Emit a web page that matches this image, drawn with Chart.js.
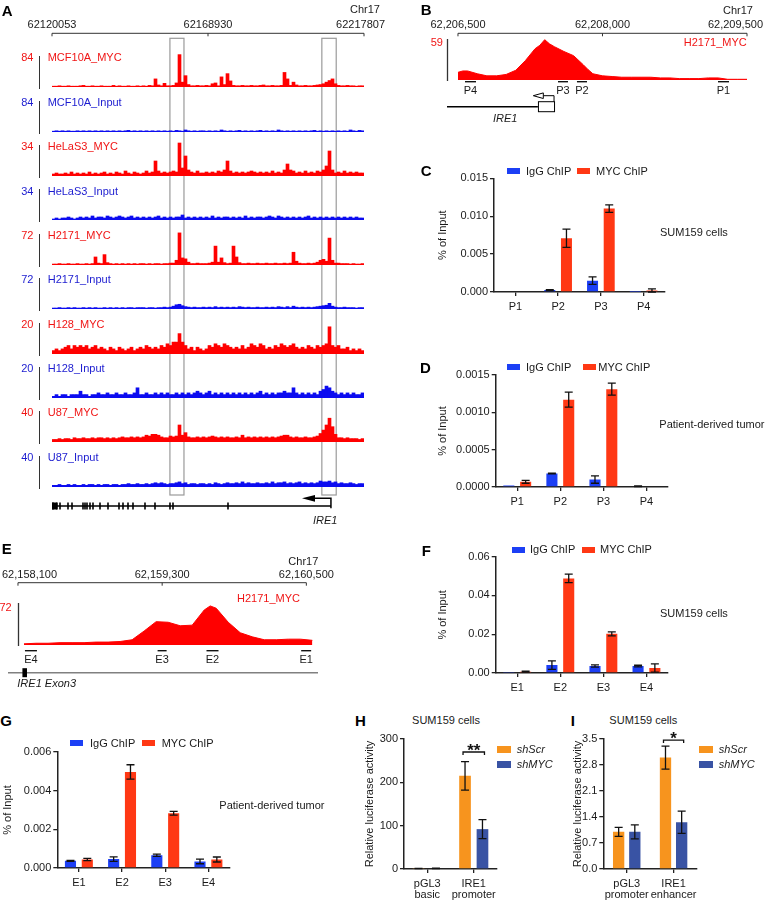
<!DOCTYPE html>
<html>
<head>
<meta charset="utf-8">
<script src="https://cdn.jsdelivr.net/npm/chart.js@4.4.0/dist/chart.umd.min.js"></script>
<style>
  html, body { margin: 0; padding: 0; background: #fff; }
  #root { position: relative; width: 768px; height: 902px; overflow: hidden; background: #fff;
          font-family: "Liberation Sans", Arial, Helvetica, sans-serif; }
  #root canvas { position: absolute; }
</style>
</head>
<body>
<div id="root"></div>
<script>
// ================= DATA =================
// Panel A: genome-browser tracks (104 bins across the window)
const aRulerTicks = [62120053, 62168930, 62217807];
const aRulerLabels = ['62120053', '62168930', '62217807'];
const aHighlight = [[62157000, 62161400], [62204600, 62209100]];
const aTrackNames = ['MCF10A_MYC', 'MCF10A_Input', 'HeLaS3_MYC', 'HeLaS3_Input', 'H2171_MYC',
                     'H2171_Input', 'H128_MYC', 'H128_Input', 'U87_MYC', 'U87_Input'];
const aTrackMax = [84, 84, 34, 34, 72, 72, 20, 20, 40, 40];
const aTrackIsMYC = [true, false, true, false, true, false, true, false, true, false];
const mcf10aMyc = [2,2,3,2,2,3,2,2,2,3, 4,2,2,3,2,2,3,2,2,2, 4,2,3,2,2,3,2,2,3,2, 3,2,4,3,20,5,3,9,3,3,
  4,10,80,12,28,6,3,3,4,3, 3,4,3,8,10,3,25,6,33,15, 4,3,3,4,3,3,4,3,3,4, 5,3,3,4,3,3,4,36,20,4,
  12,5,3,3,4,3,3,4,5,6, 8,12,16,20,8,4,3,3,4,3, 3,2,3,3];
const mcf10aInput = [2,3,2,3,2,3,2,2,3,2, 3,2,3,2,3,2,3,2,3,2, 3,2,3,2,3,4,2,3,2,3, 2,3,2,3,2,3,2,3,2,3,
  2,4,3,2,5,3,2,3,2,3, 3,2,3,2,3,2,5,3,2,3, 2,3,4,2,3,2,3,2,3,4, 2,3,2,3,2,5,3,2,3,2,
  3,2,3,2,3,2,3,4,2,3, 2,3,2,3,2,3,2,3,2,5, 3,2,4,3];
const helaMyc = [2,3,2,2,3,2,4,2,3,2, 3,2,4,2,3,2,3,4,2,3, 2,4,3,2,5,3,2,4,3,2, 3,5,3,4,15,5,3,4,3,4,
  5,4,33,8,20,6,4,3,5,3, 3,4,3,4,3,5,4,6,15,5, 3,4,3,4,3,4,5,4,3,4, 3,4,3,5,3,4,3,6,12,6,
  5,3,4,3,5,3,4,3,5,4, 6,10,25,6,3,4,3,5,3,4, 3,4,3,3];
const helaInput = [1,2,1,2,2,3,2,1,2,3, 2,3,2,4,2,3,3,2,4,3, 2,3,4,3,2,3,4,2,3,2, 3,2,3,2,3,4,2,3,2,3,
  2,3,3,5,2,3,2,3,2,3, 2,3,2,4,2,3,2,3,3,2, 3,2,3,2,4,2,3,2,3,3, 2,3,4,3,2,4,3,2,3,2,
  3,2,3,2,3,4,2,3,2,3, 2,3,2,3,2,3,2,3,2,3, 2,3,2,2];
const h2171Myc = [2,2,3,2,2,3,2,2,3,2, 2,3,2,3,17,4,3,22,5,3, 2,3,2,3,2,3,2,3,2,3, 3,2,3,2,3,3,2,3,3,4,
  4,10,68,15,13,6,3,3,4,3, 3,3,4,6,40,6,15,5,3,4, 40,17,5,3,3,4,3,3,4,3, 3,4,3,3,4,3,3,4,3,4,
  27,8,4,3,3,4,3,4,6,10, 12,8,57,10,4,4,3,3,3,2, 3,2,2,3];
const h2171Input = [2,2,3,2,2,3,2,3,2,2, 3,2,3,2,3,2,2,3,2,3, 2,3,2,3,2,3,3,2,3,3, 3,2,3,3,2,3,3,4,3,4,
  6,9,10,7,5,4,3,4,3,3, 4,3,4,3,5,3,4,3,4,3, 4,3,5,4,3,4,3,3,4,3, 3,4,3,4,3,5,4,3,5,3,
  6,4,3,4,3,4,3,4,5,6, 7,8,12,6,4,3,3,4,3,3, 3,2,3,3];
const h128Myc = [2,3,2,3,4,5,3,5,4,5, 4,5,3,4,5,3,4,3,2,4, 3,2,4,3,2,3,4,2,3,4, 3,5,4,3,4,3,5,4,6,5,
  7,7,12,7,5,3,4,2,4,3, 2,3,5,4,6,5,4,6,5,4, 3,4,3,5,3,4,6,5,4,6, 5,3,4,3,5,4,6,5,4,5,
  6,4,3,4,3,5,4,3,5,4, 5,6,16,5,4,5,3,3,4,2, 3,2,3,2];
const h128Input = [1,2,1,2,2,1,2,2,2,4, 2,2,1,2,2,3,2,2,3,2, 2,3,2,2,3,2,2,3,6,2, 2,3,2,2,3,2,3,2,3,2,
  2,3,2,3,2,3,2,3,4,3, 2,3,4,2,3,2,3,2,3,2, 3,2,3,2,3,2,3,2,3,4, 2,3,2,3,2,3,3,4,3,3,
  6,3,2,3,2,3,2,3,2,4, 5,7,6,4,3,2,3,2,3,2, 3,2,2,3];
const u87Myc = [3,3,4,3,4,4,3,5,4,4, 5,4,4,5,4,5,5,4,5,4, 5,4,5,6,5,5,6,5,6,5, 6,8,7,9,9,8,6,5,5,7,
  6,7,20,8,11,6,5,5,6,5, 6,5,6,7,6,5,6,5,6,5, 5,6,5,8,5,6,5,6,5,6, 5,6,5,6,5,6,7,8,8,6,
  5,6,5,5,6,5,5,6,7,10, 14,20,28,18,9,5,5,4,5,4, 4,4,3,4];
const u87Input = [2,2,3,2,2,3,2,3,2,2, 3,2,3,3,2,3,2,3,3,2, 3,3,2,3,3,4,3,3,4,3, 3,4,3,4,5,4,5,4,3,4,
  4,5,6,4,5,3,4,4,3,4, 4,3,4,3,5,4,3,4,5,4, 4,5,4,6,4,5,4,4,5,4, 4,5,4,6,4,5,5,6,4,5,
  4,5,6,4,5,4,5,4,5,7, 6,6,7,5,6,4,5,4,4,5, 4,3,4,4];
const aTracks = [mcf10aMyc, mcf10aInput, helaMyc, helaInput, h2171Myc, h2171Input, h128Myc, h128Input, u87Myc, u87Input];
const aExons = [62120366, 62121620, 62122560, 62125066, 62126319, 62129765, 62130392, 62131019, 62131958,
  62132898, 62135091, 62137598, 62141044, 62142297, 62143864, 62145430, 62149190, 62152323, 62157023,
  62157963, 62175195];
const aGeneStart = 62120053, aTSS = 62207450, aArrowTip = 62198378;

// Panel B: H2171_MYC zoom at the IRE1 promoter
const bRulerTicks = [62206500, 62208000, 62209500];
const bRulerLabels = ['62,206,500', '62,208,000', '62,209,500'];
const bPos = [62206500, 62206550, 62206600, 62206700, 62206800, 62206900, 62207000, 62207100, 62207200,
  62207300, 62207350, 62207400, 62207450, 62207500, 62207600, 62207700, 62207800, 62207850, 62207900,
  62208000, 62208100, 62208200, 62208300, 62208400, 62208500, 62208600, 62208700, 62208800, 62208900,
  62209000, 62209100, 62209200, 62209300, 62209400, 62209500];
const bVal = [11, 13, 13, 9, 6, 6, 8, 14, 28, 45, 50, 58, 52, 48, 41, 35, 22, 15, 9, 6, 5, 4, 4, 4, 4,
  3, 3, 2, 2, 2, 3, 3, 1, 1, 1];
const bMax = 59;
const bPrimers = ['P1', 'P2', 'P3', 'P4'];
const bPrimerStart = [62209199, 62207735, 62207538, 62206573];
const bPrimerEnd = [62209313, 62207839, 62207642, 62206687];
const bExon = [62207330, 62207497];
const bTSS = 62207497, bArrowTip = 62207282;

// Panel E: H2171_MYC zoom at the IRE1 enhancer
const eRulerTicks = [62158100, 62159300, 62160500];
const eRulerLabels = ['62,158,100', '62,159,300', '62,160,500'];
const ePos = [62158150, 62158250, 62158350, 62158450, 62158550, 62158650, 62158750, 62158850, 62158950,
  62159050, 62159150, 62159250, 62159350, 62159450, 62159550, 62159650, 62159700, 62159750, 62159850,
  62159950, 62160050, 62160150, 62160250, 62160350, 62160450, 62160550];
const eVal = [2, 3, 3, 4, 4, 4, 5, 5, 6, 9, 24, 40, 39, 33, 34, 60, 67, 63, 39, 21, 14, 9, 9, 10, 10, 8];
const eMax = 72;
const ePrimers = ['E1', 'E2', 'E3', 'E4'];
const ePrimerStart = [62160457, 62159669, 62159262, 62158158];
const ePrimerEnd = [62160540, 62159769, 62159337, 62158258];
const eExon3 = [62158137, 62158175];

// ChIP-qPCR panels
const chipSeries = ['IgG ChIP', 'MYC ChIP'];
const pCategories = ['P1', 'P2', 'P3', 'P4'];
const eCategories = ['E1', 'E2', 'E3', 'E4'];
const cIgG = [0, 0.00025, 0.0015, 0.00003], cIgGErr = [0, 0.00005, 0.0005, 0];
const cMYC = [0, 0.0071, 0.0110, 0.0002], cMYCErr = [0, 0.0012, 0.0005, 0.0002];
const cTicks = [0, 0.005, 0.010, 0.015], cTickLabels = ['0.000', '0.005', '0.010', '0.015'];
const dIgG = [0.00002, 0.00018, 0.0001, 0.00001], dIgGErr = [0, 0.000005, 0.00005, 0.000005];
const dMYC = [0.00007, 0.00117, 0.00131, 0], dMYCErr = [0.00002, 0.0001, 0.00008, 0];
const dTicks = [0, 0.0005, 0.0010, 0.0015], dTickLabels = ['0.0000', '0.0005', '0.0010', '0.0015'];
const fIgG = [0.0002, 0.0041, 0.0036, 0.0036], fIgGErr = [0, 0.0022, 0.0006, 0.0004];
const fMYC = [0.0007, 0.0488, 0.0202, 0.0026], fMYCErr = [0.0002, 0.0022, 0.001, 0.0021];
const fTicks = [0, 0.02, 0.04, 0.06], fTickLabels = ['0.00', '0.02', '0.04', '0.06'];
const gIgG = [0.00037, 0.00046, 0.00066, 0.00034], gIgGErr = [0.00002, 0.00012, 0.00006, 0.00012];
const gMYC = [0.00044, 0.00497, 0.00283, 0.00044], gMYCErr = [0.00006, 0.00037, 0.0001, 0.00013];
const gTicks = [0, 0.002, 0.004, 0.006], gTickLabels = ['0.000', '0.002', '0.004', '0.006'];

// Luciferase panels
const lucSeries = ['shScr', 'shMYC'];
const hCategories = [['pGL3', 'basic'], ['IRE1', 'promoter']];
const hScr = [1, 215], hScrErr = [0.3, 33];
const hMYC = [1.5, 92], hMYCErr = [0.5, 22];
const hTicks = [0, 100, 200, 300], hTickLabels = ['0', '100', '200', '300'];
const iCategories = [['pGL3', 'promoter'], ['IRE1', 'enhancer']];
const iScr = [1.0, 3.0], iScrErr = [0.12, 0.31];
const iMYC = [1.0, 1.26], iMYCErr = [0.19, 0.3];
const iTicks = [0, 0.7, 1.4, 2.1, 2.8, 3.5], iTickLabels = ['0.0', '0.7', '1.4', '2.1', '2.8', '3.5'];

// ================= STYLE =================
const FONT = '"Liberation Sans", Arial, Helvetica, sans-serif';
const RED = '#ff0000', BLUE = '#0c0cf0', RED_T = '#f01515', BLUE_T = '#1c1cd0';
const IGG = '#1c3ff5', MYCC = '#ff3814', ORANGE = '#f7941e', NAVY = '#3953a4';
const AX = '#222', TX = '#1a1a1a';
Chart.defaults.font.family = FONT;
Chart.defaults.font.size = 11;
Chart.defaults.color = TX;

const root = document.getElementById('root');
function mkCanvas(left, top, w, h) {
  const c = document.createElement('canvas');
  c.width = w; c.height = h;
  c.style.left = left + 'px'; c.style.top = top + 'px';
  c.style.width = w + 'px'; c.style.height = h + 'px';
  root.appendChild(c);
  return c;
}
function txt(str, x, y, o = {}) {
  const d = document.createElement('div');
  const fs = o.size || 11;
  d.textContent = str;
  d.style.cssText = 'position:absolute;white-space:nowrap;font-size:' + fs + 'px;line-height:' + fs +
    'px;top:' + (y - 0.49 * fs) + 'px;color:' + (o.color || TX) + ';font-weight:' + (o.bold ? 'bold' : 'normal') +
    ';font-style:' + (o.italic ? 'italic' : 'normal') + ';';
  if (o.align === 'right') d.style.right = (768 - x) + 'px';
  else if (o.align === 'center') { d.style.left = x + 'px'; d.style.transform = 'translateX(-50%)'; }
  else d.style.left = x + 'px';
  root.appendChild(d);
}
function swatch(x, y, w, h, color) {
  const d = document.createElement('div');
  d.style.cssText = 'position:absolute;left:' + x + 'px;top:' + y + 'px;width:' + w + 'px;height:' + h + 'px;background:' + color;
  root.appendChild(d);
}

// ================= PLUGINS =================
const genomePlugin = {
  id: 'genome',
  beforeDatasetsDraw(chart, args, o) {
    if (!o || !o.boxes) return;
    const ctx = chart.ctx, px = v => chart.scales.x.getPixelForValue(v);
    ctx.save(); ctx.strokeStyle = '#9a9a9a'; ctx.lineWidth = 1.2;
    o.boxes.forEach(b => { const x0 = px(b[0]), x1 = px(b[1]); ctx.strokeRect(x0, o.boxTop, x1 - x0, o.boxBottom - o.boxTop); });
    ctx.restore();
  },
  afterDraw(chart, args, o) {
    if (!o) return;
    const ctx = chart.ctx, px = v => chart.scales.x.getPixelForValue(v), ca = chart.chartArea;
    ctx.save();
    ctx.font = '11px ' + FONT;
    if (o.ruler) {
      const r = o.ruler;
      ctx.strokeStyle = '#333'; ctx.lineWidth = 1;
      ctx.beginPath(); ctx.moveTo(px(r.ticks[0]), r.y); ctx.lineTo(px(r.ticks[r.ticks.length - 1]), r.y); ctx.stroke();
      ctx.fillStyle = TX; ctx.textAlign = 'center'; ctx.textBaseline = 'middle';
      r.ticks.forEach((t, i) => {
        const x = px(t);
        ctx.beginPath(); ctx.moveTo(x, r.y); ctx.lineTo(x, r.y + 3); ctx.stroke();
        const w = ctx.measureText(r.labels[i]).width;
        const cx = Math.min(Math.max(x, w / 2 + 2), chart.width - w / 2 - 5);
        ctx.fillText(r.labels[i], cx, r.labelY);
      });
    }
    if (o.scaleBar) {
      ctx.strokeStyle = '#333'; ctx.lineWidth = 1.3;
      const x = Math.round(px(o.scaleBar.pos)) + 0.5;
      ctx.beginPath(); ctx.moveTo(x, ca.top); ctx.lineTo(x, ca.bottom + 1); ctx.stroke();
    }
    if (o.primers) {
      const p = o.primers;
      ctx.strokeStyle = '#111'; ctx.lineWidth = 1.4; ctx.fillStyle = TX;
      ctx.textAlign = 'center'; ctx.textBaseline = 'middle';
      p.names.forEach((n, i) => {
        const x0 = px(p.start[i]), x1 = px(p.end[i]);
        ctx.beginPath(); ctx.moveTo(x0, p.y); ctx.lineTo(x1, p.y); ctx.stroke();
        ctx.fillText(n, (x0 + x1) / 2, p.labelY);
      });
    }
    if (o.gene) {
      const g = o.gene;
      ctx.strokeStyle = g.color || '#000'; ctx.lineWidth = g.width || 1.5;
      ctx.beginPath(); ctx.moveTo(px(g.line[0]), g.y); ctx.lineTo(px(g.line[1]), g.y); ctx.stroke();
      ctx.strokeStyle = '#000'; ctx.fillStyle = '#000';
      (g.ticks || []).forEach(t => {
        const x = px(t);
        ctx.lineWidth = 1.6;
        ctx.beginPath(); ctx.moveTo(x, g.y - g.tickH / 2); ctx.lineTo(x, g.y + g.tickH / 2); ctx.stroke();
      });
      (g.blocks || []).forEach(b => {
        const x0 = px(b[0]), x1 = px(b[1]);
        ctx.fillRect(x0, g.y - b[2] / 2, Math.max(1.5, x1 - x0), b[2]);
      });
      (g.openBoxes || []).forEach(b => {
        const x0 = px(b[0]), x1 = px(b[1]);
        ctx.lineWidth = 1; ctx.fillStyle = '#fff';
        ctx.fillRect(x0, g.y - b[2] / 2, x1 - x0, b[2]);
        ctx.strokeRect(x0 + 0.5, g.y - b[2] / 2, x1 - x0, b[2]);
        ctx.fillStyle = '#000';
      });
      if (g.tss) {
        const t = g.tss, xs = px(t.pos), xt = px(t.tip), dir = xt < xs ? -1 : 1;
        ctx.lineWidth = t.lw || 1.5;
        ctx.beginPath(); ctx.moveTo(xs, t.y0); ctx.lineTo(xs, t.y1); ctx.lineTo(xt - dir * t.headLen, t.y1); ctx.stroke();
        ctx.beginPath();
        ctx.moveTo(xt, t.y1); ctx.lineTo(xt - dir * t.headLen, t.y1 - t.headHalf); ctx.lineTo(xt - dir * t.headLen, t.y1 + t.headHalf); ctx.closePath();
        if (t.open) { ctx.fillStyle = '#fff'; ctx.fill(); ctx.lineWidth = 1; ctx.stroke(); }
        else { ctx.fillStyle = '#000'; ctx.fill(); }
      }
    }
    ctx.restore();
  }
};

const errPlugin = {
  id: 'errbars',
  afterDatasetsDraw(chart) {
    const ctx = chart.ctx, ys = chart.scales.y;
    ctx.save(); ctx.strokeStyle = '#111'; ctx.lineWidth = 1.3;
    chart.data.datasets.forEach((ds, di) => {
      if (!ds.errors) return;
      chart.getDatasetMeta(di).data.forEach((el, i) => {
        const e = ds.errors[i]; if (!e) return;
        const v = ds.data[i];
        const yT = ys.getPixelForValue(v + e), yB = ys.getPixelForValue(Math.max(0, v - e));
        const x = el.x, c = 4;
        ctx.beginPath();
        ctx.moveTo(x, yT); ctx.lineTo(x, yB);
        ctx.moveTo(x - c, yT); ctx.lineTo(x + c, yT);
        ctx.moveTo(x - c, yB); ctx.lineTo(x + c, yB);
        ctx.stroke();
      });
    });
    ctx.restore();
  }
};

const sigPlugin = {
  id: 'sig',
  afterDatasetsDraw(chart, args, o) {
    if (!o || !o.items || !o.items.length) return;
    const ctx = chart.ctx;
    ctx.save(); ctx.strokeStyle = '#111'; ctx.fillStyle = '#111'; ctx.lineWidth = 1.3;
    o.items.forEach(s => {
      const a = chart.getDatasetMeta(0).data[s.index], b = chart.getDatasetMeta(1).data[s.index];
      const y = chart.scales.y.getPixelForValue(s.level), x0 = a.x - 2, x1 = b.x + 2;
      ctx.beginPath(); ctx.moveTo(x0, y + 3); ctx.lineTo(x0, y); ctx.lineTo(x1, y); ctx.lineTo(x1, y + 3); ctx.stroke();
      ctx.font = 'bold 17px ' + FONT; ctx.textAlign = 'center'; ctx.textBaseline = 'alphabetic';
      ctx.fillText(s.text, (x0 + x1) / 2, y + 4);
    });
    ctx.restore();
  }
};

const baseOpts = { responsive: false, animation: false, devicePixelRatio: 1, events: [] };

// ================= PANEL A =================
const A_BASE0 = 87.3, A_STEP = 44.38;
new Chart(mkCanvas(0, 0, 390, 530), {
  type: 'scatter',
  data: { datasets: [{ data: [] }] },
  options: Object.assign({}, baseOpts, {
    layout: { padding: { left: 52, right: 26, top: 40, bottom: 40 } },
    scales: { x: { type: 'linear', display: false, min: aRulerTicks[0], max: aRulerTicks[2] },
              y: { display: false, min: 0, max: 1 } },
    plugins: {
      legend: { display: false }, tooltip: { enabled: false },
      genome: {
        ruler: { ticks: aRulerTicks, labels: aRulerLabels, y: 33.3, labelY: 25.3 },
        boxes: aHighlight, boxTop: 38.3, boxBottom: 495,
        gene: { y: 506, line: [aGeneStart, aTSS], ticks: aExons, tickH: 7,
                blocks: [[aGeneStart, aExons[1], 7]],
                tss: { pos: aTSS, tip: aArrowTip, y0: 508.3, y1: 498.3, headLen: 13, headHalf: 3.4, open: false } }
      }
    }
  }),
  plugins: [genomePlugin]
});

aTracks.forEach((vals, i) => {
  const base = A_BASE0 + A_STEP * i;
  const col = aTrackIsMYC[i] ? RED : BLUE;
  new Chart(mkCanvas(52, Math.round(base) - 34, 312, 34), {
    type: 'bar',
    data: { labels: vals.map((_, k) => k), datasets: [{ data: vals, backgroundColor: col, borderWidth: 0,
            barPercentage: 1, categoryPercentage: 1 }] },
    options: Object.assign({}, baseOpts, {
      layout: { padding: 0 },
      plugins: { legend: { display: false }, tooltip: { enabled: false } },
      scales: { x: { display: false }, y: { display: false, min: 0, max: aTrackMax[i] } }
    })
  });
  const tc = aTrackIsMYC[i] ? RED_T : BLUE_T;
  txt(String(aTrackMax[i]), 33.5, base - 29.5, { align: 'right', color: tc });
  txt(aTrackNames[i], 47.7, base - 29.5, { color: tc });
  swatch(38.6, base - 31, 1.4, 33, '#333');
});

// ================= PANEL B =================
new Chart(mkCanvas(400, 0, 368, 125), {
  type: 'line',
  data: { datasets: [{ data: bPos.map((p, i) => ({ x: p, y: bVal[i] })), fill: 'origin', backgroundColor: RED,
          borderColor: RED, borderWidth: 1, pointRadius: 0, tension: 0 }] },
  options: Object.assign({}, baseOpts, {
    layout: { padding: { left: 47, right: 21, top: 39, bottom: 45 } },
    scales: { x: { type: 'linear', display: false, min: 62206386, max: bRulerTicks[2] },
              y: { display: false, min: 0, max: bMax } },
    plugins: {
      legend: { display: false }, tooltip: { enabled: false },
      genome: {
        ruler: { ticks: bRulerTicks, labels: bRulerLabels, y: 33.3, labelY: 25.3 },
        scaleBar: { pos: 62206386 },
        primers: { names: bPrimers, start: bPrimerStart, end: bPrimerEnd, y: 81.7, labelY: 90.5 },
        gene: { y: 106.7, line: [62206386, bExon[0]], openBoxes: [[bExon[0], bExon[1], 10]],
                tss: { pos: bTSS, tip: bArrowTip, y0: 101.7, y1: 95.7, headLen: 10, headHalf: 2.8, open: true, lw: 1 } }
      }
    }
  }),
  plugins: [genomePlugin]
});

// ================= PANEL E =================
const E_TOP = 540;
new Chart(mkCanvas(0, E_TOP, 340, 160), {
  type: 'line',
  data: { datasets: [{ data: ePos.map((p, i) => ({ x: p, y: eVal[i] })), fill: 'origin', backgroundColor: RED,
          borderColor: RED, borderWidth: 1, pointRadius: 0, tension: 0 }] },
  options: Object.assign({}, baseOpts, {
    layout: { padding: { left: 8, right: 22, top: 63, bottom: 55 } },
    scales: { x: { type: 'linear', display: false, min: 62158017, max: 62160597 },
              y: { display: false, min: 0, max: eMax } },
    plugins: {
      legend: { display: false }, tooltip: { enabled: false },
      genome: {
        ruler: { ticks: eRulerTicks, labels: eRulerLabels, y: 582.7 - E_TOP, labelY: 575 - E_TOP },
        scaleBar: { pos: eRulerTicks[0] },
        primers: { names: ePrimers, start: ePrimerStart, end: ePrimerEnd, y: 650.7 - E_TOP, labelY: 660 - E_TOP },
        gene: { y: 672.7 - E_TOP, color: '#808080', line: [62158017, 62160597], blocks: [[eExon3[0], eExon3[1], 9]] }
      }
    }
  }),
  plugins: [genomePlugin]
});

// ================= BAR PANELS =================
function barChart(o) {
  const padL = 4, padT = 10, padR = 8;
  const left = Math.round(o.plot[0] - o.yW - padL);
  const top = Math.round(o.plot[1] - padT);
  const w = Math.round(o.plot[2] + padR) - left;
  const h = Math.round(o.plot[3] + o.xH) - top;
  new Chart(mkCanvas(left, top, w, h), {
    type: 'bar',
    data: { labels: o.labels, datasets: o.series.map(s => ({ label: s.label, data: s.data, errors: s.err,
            backgroundColor: s.color, borderWidth: 0, categoryPercentage: o.cp, barPercentage: o.bp })) },
    options: Object.assign({}, baseOpts, {
      layout: { padding: { left: o.plot[0] - o.yW - left, top: o.plot[1] - top, right: padR, bottom: 0 } },
      plugins: { legend: { display: false }, tooltip: { enabled: false }, sig: { items: o.sig || [] } },
      scales: {
        x: { grid: { display: true, drawOnChartArea: false, offset: false, tickLength: 4, color: AX, lineWidth: 1.3 },
             border: { display: true, color: AX, width: 1.5 },
             ticks: { color: TX, font: { size: 11, lineHeight: o.xLH || 1.2 }, padding: o.xPad || 3, maxRotation: 0, autoSkip: false },
             afterFit: s => { s.height = o.xH; } },
        y: { min: o.yTicks[0], max: o.yTicks[o.yTicks.length - 1],
             afterBuildTicks: s => { s.ticks = o.yTicks.map(v => ({ value: v })); },
             ticks: { color: TX, font: { size: 11 }, padding: 2, callback: (v, i) => o.yLabels[i] },
             grid: { display: true, drawOnChartArea: false, tickLength: 4, color: AX, lineWidth: 1.3 },
             border: { display: true, color: AX, width: 1.5 },
             title: { display: true, text: o.yTitle, color: TX, font: { size: 11 }, padding: 0 },
             afterFit: s => { s.width = o.yW; } }
      }
    }),
    plugins: [errPlugin, sigPlugin]
  });
}

barChart({ plot: [494, 178.3, 665, 292.3], yW: 57.6, xH: 28, xPad: 4, labels: pCategories, cp: 0.78, bp: 0.66,
  series: [{ label: chipSeries[0], data: cIgG, err: cIgGErr, color: IGG }, { label: chipSeries[1], data: cMYC, err: cMYCErr, color: MYCC }],
  yTicks: cTicks, yLabels: cTickLabels, yTitle: '% of Input' });
barChart({ plot: [495.7, 375, 668.3, 487.3], yW: 59, xH: 28, xPad: 4, labels: pCategories, cp: 0.78, bp: 0.66,
  series: [{ label: chipSeries[0], data: dIgG, err: dIgGErr, color: IGG }, { label: chipSeries[1], data: dMYC, err: dMYCErr, color: MYCC }],
  yTicks: dTicks, yLabels: dTickLabels, yTitle: '% of Input' });
barChart({ plot: [495.7, 556.7, 668.3, 672.7], yW: 59, xH: 28, xPad: 4, labels: eCategories, cp: 0.78, bp: 0.66,
  series: [{ label: chipSeries[0], data: fIgG, err: fIgGErr, color: IGG }, { label: chipSeries[1], data: fMYC, err: fMYCErr, color: MYCC }],
  yTicks: fTicks, yLabels: fTickLabels, yTitle: '% of Input' });
barChart({ plot: [57.3, 752, 230, 867.7], yW: 55.6, xH: 28, xPad: 4, labels: eCategories, cp: 0.78, bp: 0.66,
  series: [{ label: chipSeries[0], data: gIgG, err: gIgGErr, color: IGG }, { label: chipSeries[1], data: gMYC, err: gMYCErr, color: MYCC }],
  yTicks: gTicks, yLabels: gTickLabels, yTitle: '% of Input' });
barChart({ plot: [404, 739, 496.7, 869], yW: 40.6, xH: 32, xLH: 1.05, xPad: 5, labels: hCategories, cp: 0.75, bp: 0.67,
  series: [{ label: lucSeries[0], data: hScr, err: hScrErr, color: ORANGE }, { label: lucSeries[1], data: hMYC, err: hMYCErr, color: NAVY }],
  yTicks: hTicks, yLabels: hTickLabels, yTitle: 'Relative luciferase activity',
  sig: [{ index: 1, level: 270, text: '**' }] });
barChart({ plot: [603.3, 739, 696.7, 869], yW: 31.6, xH: 32, xLH: 1.05, xPad: 5, labels: iCategories, cp: 0.69, bp: 0.7,
  series: [{ label: lucSeries[0], data: iScr, err: iScrErr, color: ORANGE }, { label: lucSeries[1], data: iMYC, err: iMYCErr, color: NAVY }],
  yTicks: iTicks, yLabels: iTickLabels, yTitle: 'Relative luciferase activity',
  sig: [{ index: 1, level: 3.47, text: '*' }] });

// ================= TEXT =================
const L = { size: 15, bold: true, color: '#000' };
txt('A', 1.7, 10.4, L); txt('B', 420.7, 9.4, L); txt('C', 420.7, 170.4, L); txt('D', 420, 367, L);
txt('E', 1.7, 548.7, L); txt('F', 421.7, 550.4, L); txt('G', 0.3, 720.4, L); txt('H', 355, 720.4, L); txt('I', 570.7, 720.4, L);

txt('Chr17', 380, 9.3, { align: 'right' });
txt('IRE1', 313, 520, { italic: true });
txt('Chr17', 753, 10, { align: 'right' });
txt(String(bMax), 443, 42.7, { align: 'right', color: RED_T });
txt('H2171_MYC', 746.7, 42.7, { align: 'right', color: RED_T });
txt('IRE1', 493, 118.3, { italic: true });
txt('Chr17', 318.3, 561, { align: 'right' });
txt(String(eMax), 11.7, 607.7, { align: 'right', color: RED_T });
txt('H2171_MYC', 300, 598.3, { align: 'right', color: RED_T });
txt('IRE1 Exon3', 17.3, 683.3, { italic: true });

// legends
function chipLegend(y, bx, tx, rx, rtx) {
  swatch(bx, y - 3, 13, 6, IGG); txt(chipSeries[0], tx, y);
  swatch(rx, y - 3, 13, 6, MYCC); txt(chipSeries[1], rtx, y);
}
chipLegend(171.3, 507, 526, 577, 596);
chipLegend(367, 506.7, 526, 582.7, 598.3);
chipLegend(549.5, 511.7, 530, 581.7, 600);
chipLegend(743, 70, 90, 141.7, 161.7);
function lucLegend(x) {
  swatch(x, 746, 14, 7, ORANGE); txt(lucSeries[0], x + 19.4, 749.3, { italic: true });
  swatch(x, 760.7, 14, 7, NAVY); txt(lucSeries[1], x + 19.4, 764, { italic: true });
}
lucLegend(497.3); lucLegend(699.3);

txt('SUM159 cells', 660, 232.7);
txt('Patient-derived tumor', 659.3, 424);
txt('SUM159 cells', 660, 613.3);
txt('Patient-derived tumor', 219.3, 805);
txt('SUM159 cells', 446, 720.7, { align: 'center' });
txt('SUM159 cells', 643.3, 720.7, { align: 'center' });
</script>
</body>
</html>
